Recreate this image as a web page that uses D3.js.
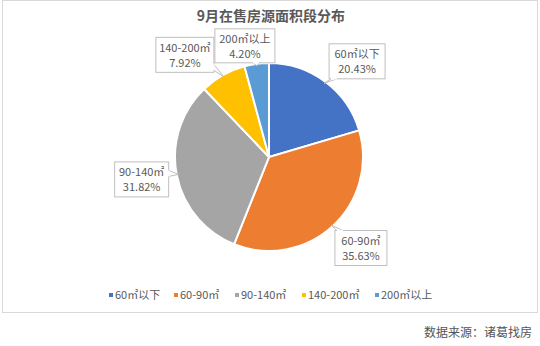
<!DOCTYPE html>
<html>
<head>
<meta charset="utf-8">
<script src="https://cdn.jsdelivr.net/npm/d3@7"></script>
<style>
  body { margin: 0; background: #fff; }
  text { font-family: "Noto Sans CJK SC", "Noto Sans", sans-serif; }
</style>
</head>
<body>
<div id="chart"></div>
<script>
const WIDTH = 540;
const HEIGHT = 346;
const RADIUS = 94;

// data
const categories = ["60㎡以下", "60-90㎡", "90-140㎡", "140-200㎡", "200㎡以上"];
const shares = [20.43, 35.63, 31.82, 7.92, 4.20];
const colors = ["#4472C4", "#ED7D31", "#A5A5A5", "#FFC000", "#5B9BD5"];

// callout box offsets from the slice edge point (layout only)
const boxOffsets = [[33, -22], [30, 23], [-37, 5], [-39, -22], [-12, -20]];
const BOX_W = [56, 52, 54, 58, 60];
const BOX_H = [35, 35, 35, 35, 34];

const svg = d3.select("#chart").append("svg")
    .attr("width", WIDTH)
    .attr("height", HEIGHT);

// chart frame
svg.append("rect")
    .attr("x", 2.5).attr("y", 0.5)
    .attr("width", 535).attr("height", 312)
    .attr("fill", "#fff")
    .attr("stroke", "#d9d9d9");

svg.append("text")
    .attr("x", 271).attr("y", 21)
    .attr("text-anchor", "middle")
    .attr("font-size", 14)
    .attr("font-weight", "bold")
    .attr("fill", "#595959")
    .text("9月在售房源面积段分布");

const cx = 269, cy = 157;
const g = svg.append("g").attr("transform", `translate(${cx},${cy})`);

const pie = d3.pie().sort(null).value(d => d.v);
const arcs = pie(categories.map((c, i) => ({ c, v: shares[i], i })));
const arc = d3.arc().innerRadius(0).outerRadius(RADIUS);

g.selectAll(".slice")
    .data(arcs)
    .enter().append("path")
    .attr("class", "slice")
    .attr("d", arc)
    .attr("fill", d => colors[d.data.i])
    .attr("stroke", "#fff")
    .attr("stroke-width", 2);

// callouts
const edgeArc = d3.arc().innerRadius(RADIUS - 2).outerRadius(RADIUS - 2);
arcs.forEach(d => {
    const i = d.data.i;
    const [ax, ay] = edgeArc.centroid(d);
    const bx = ax + boxOffsets[i][0], by = ay + boxOffsets[i][1];
    const w = BOX_W[i], h = BOX_H[i];
    const x0 = bx - w / 2, y0 = by - h / 2;
    const lab = g.append("g");
    lab.append("rect")
        .attr("x", x0).attr("y", y0)
        .attr("width", w).attr("height", h)
        .attr("fill", "#fff")
        .attr("stroke", "#bfbfbf");

    // tail base on the edge facing the anchor
    const dx = ax - bx, dy = ay - by;
    let p1, p2;
    if (Math.abs(dx) / (w / 2) > Math.abs(dy) / (h / 2)) {
        const ex = dx > 0 ? x0 + w : x0;
        const yy = Math.max(y0 + 2, Math.min(y0 + h - 8, ay - 4));
        p1 = [ex, yy]; p2 = [ex, yy + 6];
    } else {
        const ey = dy > 0 ? y0 + h : y0;
        const xx = Math.max(x0 + 2, Math.min(x0 + w - 8, ax - 4));
        p1 = [xx, ey]; p2 = [xx + 6, ey];
    }
    lab.append("path")
        .attr("d", `M${p1}L${ax},${ay}L${p2}`)
        .attr("fill", "#fff")
        .attr("stroke", "#bfbfbf");
    lab.append("line")
        .attr("x1", p1[0]).attr("y1", p1[1])
        .attr("x2", p2[0]).attr("y2", p2[1])
        .attr("stroke", "#fff").attr("stroke-width", 1.5);

    lab.append("text")
        .attr("x", bx).attr("y", by - 3)
        .attr("text-anchor", "middle")
        .attr("font-size", 11)
        .attr("fill", "#595959")
        .text(categories[i]);
    lab.append("text")
        .attr("x", bx).attr("y", by + 12)
        .attr("text-anchor", "middle")
        .attr("font-size", 11)
        .attr("fill", "#595959")
        .text(shares[i].toFixed(2) + "%");
});

// legend
const legendX = [111, 176, 237, 304, 377];
const legend = svg.append("g").attr("transform", "translate(0,295)");
categories.forEach((c, i) => {
    legend.append("rect")
        .attr("x", legendX[i] - 2).attr("y", -2)
        .attr("width", 4).attr("height", 4)
        .attr("fill", colors[i]);
    legend.append("text")
        .attr("x", legendX[i] + 4).attr("y", 4)
        .attr("font-size", 11)
        .attr("fill", "#595959")
        .text(c);
});

svg.append("text")
    .attr("x", 532).attr("y", 337)
    .attr("text-anchor", "end")
    .attr("font-size", 12)
    .attr("fill", "#555")
    .text("数据来源：诸葛找房");
</script>
</body>
</html>
